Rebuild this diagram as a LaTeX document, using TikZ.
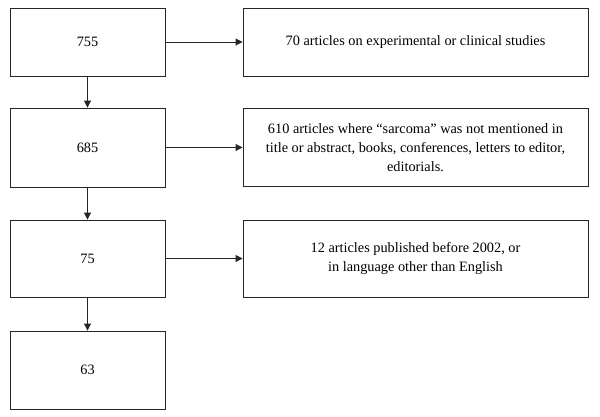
\documentclass[tikz,border=0pt]{standalone}
\usepackage{fontspec}
\setmainfont{Liberation Serif}
\usetikzlibrary{arrows.meta}
\begin{document}
\begin{tikzpicture}[x=1pt,y=-1pt,
  box/.style={draw=black!85,line width=0.9pt,rectangle,inner sep=0pt,align=center,
    font=\fontsize{14.3}{18.7}\selectfont},
  lbox/.style={box,minimum width=155pt},
  rbox/.style={box,minimum width=345pt},
  arr/.style={draw=black!85,line width=0.9pt,-{Triangle[length=7pt,width=7pt]}}]
\useasboundingbox (0,0) rectangle (600,416);
\node[lbox,minimum height=68pt] (a) at (87.5,42) {755};
\node[lbox,minimum height=79pt] (b) at (87.5,147.5) {685};
\node[lbox,minimum height=77pt] (c) at (87.5,258.5) {75};
\node[lbox,minimum height=78pt] (d) at (87.5,370) {63};
\node[rbox,minimum height=68pt] (ra) at (415.5,42) {70 articles on experimental or clinical studies};
\node[rbox,minimum height=78pt] (rb) at (415.5,147.5) {610 articles where “sarcoma” was not mentioned in\\title or abstract, books, conferences, letters to editor,\\editorials.};
\node[rbox,minimum height=77pt] (rc) at (415.5,258.5) {12 articles published before 2002, or\\in language other than English};
\draw[arr] (a) -- (ra);
\draw[arr] (b) -- (rb);
\draw[arr] (c) -- (rc);
\draw[arr] (a) -- (b);
\draw[arr] (b) -- (c);
\draw[arr] (c) -- (d);
\end{tikzpicture}
\end{document}
